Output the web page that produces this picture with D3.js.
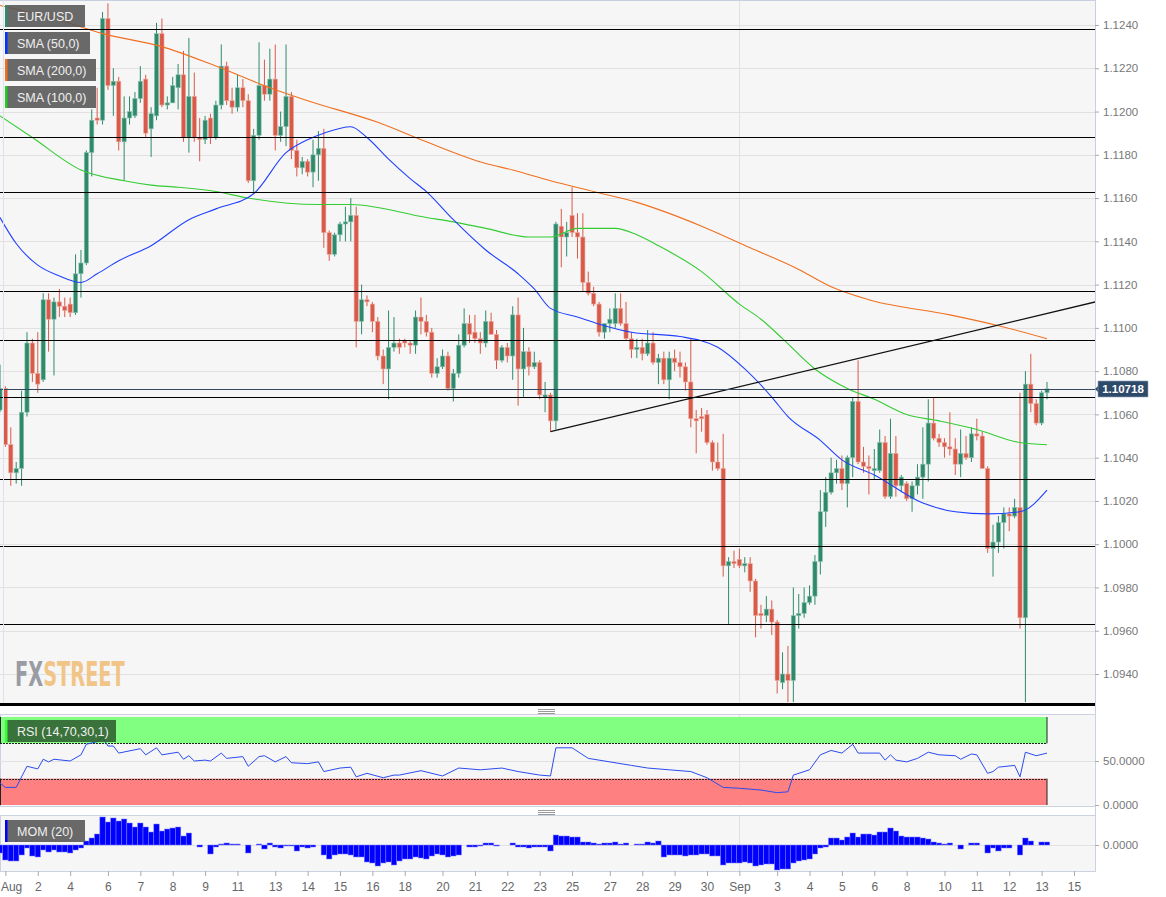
<!DOCTYPE html>
<html>
<head>
<meta charset="utf-8">
<script src="https://cdn.jsdelivr.net/npm/d3@7"></script>
<style>
body { margin: 0; background: #fff; }
text { font-family: "Liberation Sans", Arial, sans-serif; }
</style>
</head>
<body>
<div id="chart"></div>
<script>
var width = 1166,
    height = 897;

// velas 4h: [apertura, maximo, minimo, cierre]
var ohlc = [
[1.1062,1.1083,1.1061,1.1072],[1.1072,1.1073,1.1045,1.1046],[1.1046,1.1054,1.1027,1.1033],[1.1033,1.1038,1.1028,1.1035],[1.1035,1.1071,1.1027,1.1061],
[1.1061,1.1098,1.1059,1.1093],[1.1093,1.1095,1.1075,1.1079],[1.1079,1.1098,1.1070,1.1074],[1.1076,1.1116,1.1075,1.1113],[1.1113,1.1116,1.1089,1.1104],
[1.1104,1.1114,1.1078,1.1112],[1.1112,1.1118,1.1105,1.1110],[1.1110,1.1114,1.1105,1.1108],[1.1111,1.1114,1.1105,1.1107],[1.1107,1.1134,1.1106,1.1125],
[1.1125,1.1136,1.1114,1.1130],[1.1130,1.1182,1.1129,1.1181],[1.1181,1.1201,1.1170,1.1196],[1.1197,1.1211,1.1194,1.1196],[1.1196,1.1246,1.1194,1.1243],
[1.1243,1.1250,1.1210,1.1212],[1.1212,1.1220,1.1198,1.1214],[1.1214,1.1216,1.1182,1.1186],[1.1186,1.1207,1.1168,1.1197],[1.1197,1.1207,1.1194,1.1200],
[1.1198,1.1209,1.1197,1.1206],[1.1206,1.1221,1.1204,1.1214],[1.1215,1.1217,1.1188,1.1190],[1.1192,1.1202,1.1179,1.1199],[1.1198,1.1241,1.1196,1.1236],
[1.1236,1.1243,1.1202,1.1203],[1.1203,1.1207,1.1201,1.1204],[1.1204,1.1216,1.1204,1.1212],[1.1211,1.1222,1.1201,1.1217],[1.1217,1.1228,1.1186,1.1188],
[1.1188,1.1234,1.1181,1.1207],[1.1207,1.1218,1.1186,1.1188],[1.1188,1.1197,1.1177,1.1187],[1.1187,1.1198,1.1185,1.1196],[1.1197,1.1199,1.1185,1.1188],
[1.1188,1.1205,1.1187,1.1203],[1.1203,1.1231,1.1201,1.1221],[1.1221,1.1223,1.1203,1.1205],[1.1205,1.1211,1.1199,1.1202],[1.1202,1.1217,1.1200,1.1211],
[1.1211,1.1215,1.1202,1.1205],[1.1205,1.1208,1.1167,1.1168],[1.1168,1.1192,1.1162,1.1189],[1.1189,1.1232,1.1187,1.1212],[1.1212,1.1224,1.1205,1.1208],
[1.1208,1.1229,1.1205,1.1215],[1.1215,1.1231,1.1182,1.1189],[1.1189,1.1200,1.1186,1.1193],[1.1193,1.1231,1.1184,1.1207],[1.1207,1.1209,1.1178,1.1182],
[1.1182,1.1187,1.1170,1.1174],[1.1174,1.1179,1.1171,1.1177],[1.1177,1.1178,1.1170,1.1172],[1.1172,1.1187,1.1165,1.1180],[1.1180,1.1191,1.1168,1.1183],
[1.1183,1.1192,1.1137,1.1144],[1.1144,1.1145,1.1131,1.1134],[1.1134,1.1144,1.1133,1.1143],[1.1143,1.1149,1.1140,1.1148],[1.1148,1.1156,1.1140,1.1149],
[1.1149,1.1160,1.1140,1.1152],[1.1152,1.1156,1.1091,1.1103],[1.1103,1.1120,1.1097,1.1113],[1.1113,1.1115,1.1110,1.1112],[1.1111,1.1112,1.1098,1.1103],
[1.1103,1.1105,1.1085,1.1087],[1.1087,1.1090,1.1074,1.1081],[1.1081,1.1108,1.1067,1.1091],[1.1091,1.1105,1.1089,1.1093],[1.1093,1.1095,1.1088,1.1091],
[1.1094,1.1095,1.1091,1.1093],[1.1093,1.1094,1.1088,1.1092],[1.1092,1.1108,1.1088,1.1105],[1.1105,1.1114,1.1097,1.1103],[1.1103,1.1106,1.1096,1.1098],
[1.1098,1.1100,1.1077,1.1079],[1.1079,1.1086,1.1077,1.1082],[1.1082,1.1090,1.1081,1.1087],[1.1087,1.1089,1.1071,1.1072],[1.1072,1.1081,1.1066,1.1079],
[1.1079,1.1097,1.1077,1.1092],[1.1092,1.1109,1.1091,1.1102],[1.1102,1.1106,1.1093,1.1097],[1.1098,1.1106,1.1093,1.1095],[1.1095,1.1098,1.1088,1.1093],
[1.1093,1.1108,1.1091,1.1103],[1.1103,1.1107,1.1097,1.1097],[1.1097,1.1099,1.1081,1.1085],[1.1085,1.1092,1.1084,1.1091],[1.1091,1.1093,1.1084,1.1087],
[1.1087,1.1110,1.1076,1.1106],[1.1106,1.1114,1.1064,1.1081],[1.1081,1.1100,1.1068,1.1089],[1.1089,1.1091,1.1078,1.1082],[1.1082,1.1089,1.1081,1.1084],
[1.1084,1.1085,1.1067,1.1069],[1.1068,1.1075,1.1061,1.1069],[1.1069,1.1070,1.1052,1.1057],[1.1057,1.1149,1.1053,1.1148],[1.1147,1.1155,1.1128,1.1142],
[1.1142,1.1149,1.1133,1.1144],[1.1152,1.1165,1.1142,1.1144],[1.1144,1.1153,1.1132,1.1142],[1.1142,1.1153,1.1117,1.1121],[1.1121,1.1126,1.1115,1.1116],
[1.1116,1.1119,1.1110,1.1111],[1.1111,1.1112,1.1096,1.1098],[1.1098,1.1102,1.1095,1.1102],[1.1102,1.1109,1.1098,1.1104],[1.1102,1.1116,1.1100,1.1109],
[1.1109,1.1116,1.1101,1.1102],[1.1102,1.1112,1.1094,1.1095],[1.1095,1.1098,1.1086,1.1090],[1.1090,1.1095,1.1086,1.1091],[1.1091,1.1095,1.1085,1.1088],
[1.1088,1.1099,1.1087,1.1093],[1.1093,1.1098,1.1083,1.1084],[1.1084,1.1088,1.1074,1.1086],[1.1086,1.1089,1.1074,1.1076],[1.1076,1.1089,1.1067,1.1086],
[1.1086,1.1090,1.1080,1.1084],[1.1084,1.1089,1.1077,1.1082],[1.1082,1.1084,1.1071,1.1075],[1.1075,1.1095,1.1054,1.1058],[1.1058,1.1062,1.1042,1.1057],
[1.1059,1.1063,1.1052,1.1058],[1.1060,1.1062,1.1046,1.1047],[1.1047,1.1048,1.1034,1.1038],[1.1038,1.1047,1.1034,1.1035],[1.1035,1.1051,1.0985,1.0990],
[1.0990,1.0994,1.0963,1.0992],[1.0992,1.0997,1.0989,1.0991],[1.0993,1.0998,1.0989,1.0990],[1.0990,1.0994,1.0987,1.0991],[1.0991,1.0994,1.0978,1.0983],
[1.0983,1.0984,1.0957,1.0967],[1.0968,1.0972,1.0961,1.0967],[1.0967,1.0976,1.0964,1.0970],[1.0970,1.0974,1.0958,1.0964],[1.0964,1.0965,1.0931,1.0937],
[1.0936,1.0950,1.0933,1.0940],[1.0940,1.0953,1.0927,1.0937],[1.0937,1.0980,1.0927,1.0967],[1.0967,1.0977,1.0961,1.0968],[1.0968,1.0980,1.0966,1.0973],
[1.0973,1.0981,1.0972,1.0976],[1.0976,1.0995,1.0972,1.0992],[1.0992,1.1025,1.0986,1.1015],[1.1015,1.1031,1.1008,1.1024],[1.1024,1.1040,1.1023,1.1033],
[1.1033,1.1039,1.1028,1.1035],[1.1035,1.1041,1.1025,1.1028],[1.1028,1.1041,1.1017,1.1040],[1.1040,1.1068,1.1031,1.1066],[1.1066,1.1085,1.1037,1.1038],
[1.1038,1.1045,1.1033,1.1036],[1.1036,1.1041,1.1023,1.1035],[1.1034,1.1044,1.1030,1.1035],[1.1034,1.1053,1.1033,1.1047],[1.1047,1.1050,1.1021,1.1022],
[1.1022,1.1058,1.1021,1.1042],[1.1042,1.1050,1.1022,1.1027],[1.1027,1.1032,1.1024,1.1031],[1.1028,1.1029,1.1020,1.1021],[1.1021,1.1029,1.1015,1.1027],
[1.1027,1.1037,1.1023,1.1031],[1.1031,1.1054,1.1021,1.1037],[1.1037,1.1067,1.1029,1.1056],[1.1056,1.1068,1.1048,1.1049],[1.1049,1.1051,1.1045,1.1047],
[1.1047,1.1049,1.1040,1.1045],[1.1045,1.1061,1.1041,1.1044],[1.1044,1.1049,1.1032,1.1037],[1.1037,1.1053,1.1031,1.1042],[1.1042,1.1050,1.1039,1.1040],
[1.1040,1.1054,1.1038,1.1051],[1.1051,1.1058,1.1048,1.1050],[1.1050,1.1052,1.1035,1.1035],[1.1035,1.1036,1.0996,1.0998],[1.0998,1.1009,1.0985,1.1001],
[1.1001,1.1013,1.0996,1.1010],[1.1010,1.1017,1.0998,1.1014],[1.1014,1.1017,1.1006,1.1013],[1.1013,1.1021,1.1012,1.1017],[1.1017,1.1070,1.0961,1.0966],
[1.0966,1.1080,1.0927,1.1074],[1.1074,1.1088,1.1061,1.1065],[1.1065,1.1067,1.1055,1.1056],[1.1056,1.1071,1.1055,1.1070],[1.1070,1.1075,1.1067,1.10718]
];

// medias moviles (indice de vela, precio)
var sma50Idx = [0,3,7,11,15,18,22,28,35,40,47,53,57,60,65,68,72,76,79,84,90,96,99,102,107,112,117,126,133,138,143,146,152,156,162,171,177,183,189,194];
var sma50Val = [1.1151,1.1139,1.1129,1.1124,1.1121,1.1125,1.1131,1.1138,1.1150,1.1155,1.1162,1.1181,1.1187,1.1190,1.1193,1.1188,1.1178,1.1169,1.1163,1.1150,1.1136,1.1125,1.1118,1.1109,1.1105,1.1101,1.1098,1.1096,1.1091,1.1081,1.1068,1.1059,1.1048,1.1039,1.1032,1.1019,1.1015,1.1014,1.1015,1.1025];
var sma100Idx = [0,6,15,23,28,33,40,46,59,65,79,84,90,98,102,107,114,118,122,130,137,141,145,151,157,162,168,174,181,189,194];
var sma100Val = [1.1198,1.1188,1.1173,1.1168,1.1166,1.1165,1.1163,1.1160,1.1157,1.1157,1.1151,1.1149,1.1146,1.1142,1.1142,1.1146,1.1146,1.1143,1.1138,1.1126,1.1111,1.1104,1.1095,1.1081,1.1072,1.1067,1.1060,1.1057,1.1053,1.1047,1.1046];
var sma200Idx = [0,10,19,30,40,50,57,70,79,90,95,102,110,118,130,139,148,154,161,176,185,194];
var sma200Val = [1.1249,1.1243,1.1236,1.1230,1.1221,1.1211,1.1205,1.1195,1.1186,1.1176,1.1173,1.1168,1.1163,1.1158,1.1147,1.1137,1.1127,1.1119,1.1113,1.1106,1.1101,1.1095];

// niveles horizontales y linea de tendencia
var levels = [1.1238,1.1188,1.1163,1.1117,1.10945,1.1068,1.1030,1.0999,1.0963];
var trendIdx = [102, 203];
var trendVal = [1.1052, 1.1112];
var lastPrice = 1.10718;

// RSI (14)
var rsiIdx = [0,1,3,5,7,8,9,10,13,15,16,18,19,20,21,22,26,27,29,30,33,34,35,36,38,39,41,42,45,46,48,49,51,53,54,57,59,60,63,65,66,68,71,73,74,78,82,85,89,93,96,100,102,103,106,109,113,117,120,124,128,131,134,137,141,144,146,147,150,152,154,156,158,159,163,164,165,166,168,170,172,174,177,178,179,180,181,183,184,185,188,189,190,192,194];
var rsiVal = [25,20,20,44,41,52,49,52,50,57,69,72,77,67,67,59,64,57,65,57,60,52,56,50,51,50,59,53,55,44,55,56,49,55,48,47,49,38,42,43,32,36,31,34,34,39,33,42,40,42,38,34,33,65,65,53,49,45,42,40,38,31,20,19,17,14,15,34,40,57,62,59,69,59,59,51,57,51,49,53,60,57,56,52,55,58,57,36,38,43,45,32,60,56,59];

// MOM (20), una barra por vela
var mom = [
-0.0032,-0.0060,-0.0064,-0.0064,-0.0040,-0.0012,-0.0044,-0.0048,-0.0020,-0.0028,
-0.0020,-0.0028,-0.0028,-0.0032,-0.0020,-0.0012,0.0016,0.0028,0.0044,0.0112,
0.0092,0.0108,0.0096,0.0104,0.0088,0.0072,0.0088,0.0072,0.0052,0.0084,
0.0056,0.0064,0.0068,0.0072,0.0036,0.0048,0,-0.0008,0,-0.0036,
-0.0008,0.0004,0.0008,0.0004,0.0004,0,-0.0032,0,0.0004,-0.0016,
0.0008,-0.0008,-0.0012,-0.0004,-0.0004,-0.0024,-0.0008,-0.0012,-0.0008,0,
-0.0040,-0.0056,-0.0040,-0.0036,-0.0036,-0.0040,-0.0048,-0.0048,-0.0068,-0.0072,
-0.0084,-0.0072,-0.0068,-0.0080,-0.0064,-0.0056,-0.0056,-0.0048,-0.0052,-0.0056,
-0.0044,-0.0036,-0.0040,-0.0048,-0.0044,-0.0040,0,-0.0008,-0.0008,-0.0004,
0.0008,0.0008,-0.0004,0,0,0.0008,-0.0008,-0.0008,-0.0012,-0.0008,
-0.0008,-0.0008,-0.0024,0.0040,0.0036,0.0036,0.0032,0.0032,0.0012,0.0012,
0.0008,0.0004,0.0008,0.0008,0.0012,0.0004,0.0008,0,0.0004,0.0004,
0.0012,0.0008,0.0016,-0.0048,-0.0040,-0.0040,-0.0040,-0.0044,-0.0040,-0.0040,
-0.0036,-0.0036,-0.0044,-0.0044,-0.0080,-0.0072,-0.0072,-0.0072,-0.0068,-0.0072,
-0.0084,-0.0080,-0.0076,-0.0076,-0.0100,-0.0096,-0.0096,-0.0072,-0.0064,-0.0060,
-0.0056,-0.0036,-0.0012,-0.0008,0.0028,0.0028,0.0020,0.0032,0.0048,0.0032,
0.0044,0.0044,0.0040,0.0052,0.0052,0.0068,0.0056,0.0036,0.0032,0.0032,
0.0032,0.0028,0.0024,0.0012,0.0008,0.0004,0.0008,0,-0.0016,0,
0.0008,0.0008,0,-0.0032,-0.0012,-0.0024,-0.0012,-0.0012,0,-0.0040,
0.0028,0.0016,0,0.0012,0.0012
];

// eje de tiempo
var tickIdx = [1,7,13,20,26,32,38,44,51,57,63,69,75,82,88,94,100,106,113,119,125,131,137,144,150,156,162,168,175,181,187,193,199];
var tickLbl = ["Aug","2","4","6","7","8","9","11","13","14","15","16","18","20","21","22","23","25","27","28","29","30","Sep","3","4","5","6","8","10","11","12","13","15"];
var priceTicks = d3.range(0, 16).map(k => +(1.0940 + k * 0.002).toFixed(4));

var plotW = 1095, mainH = 704;
var up = "#2f8a6c", upLine = "#8cc4b1", down = "#d85a48", downLine = "#eeaaa0";

var x = d3.scaleLinear().domain([0, 194]).range([0, 1047]);
var y = d3.scaleLinear().domain([1.0940, 1.1240]).range([674, 25]);
var yRsi = d3.scaleLinear().domain([0, 100]).range([805, 717]);
var yMom = d3.scaleLinear().domain([-0.0104, 0.0120]).range([871, 815]);

var svg = d3.select("#chart").append("svg")
            .attr("width", width)
            .attr("height", height);

svg.append("rect").attr("width", width).attr("height", height).attr("fill", "#fff");

// ---------- panel principal ----------
svg.append("rect").attr("x", 0).attr("y", 0).attr("width", plotW).attr("height", mainH).attr("fill", "#f6f6f6");
svg.append("clipPath").attr("id", "clipMain")
   .append("rect").attr("x", 0).attr("y", 0).attr("width", plotW).attr("height", mainH);

var grid = svg.append("g");
grid.selectAll("line").data(priceTicks).enter().append("line")
    .attr("x1", 0).attr("x2", plotW)
    .attr("y1", d => Math.round(y(d)) + 0.5).attr("y2", d => Math.round(y(d)) + 0.5)
    .attr("stroke", "#e1e1e1");

// linea vertical de cambio de mes
svg.append("line").attr("x1", Math.round(x(137)) + 0.5).attr("x2", Math.round(x(137)) + 0.5)
   .attr("y1", 0).attr("y2", mainH).attr("stroke", "#e1e1e1");

// marca de agua: letra estrecha estirada en vertical
var wm = svg.append("text")
    .attr("transform", "translate(15,686) scale(1,1.55)")
    .style("font-family", "'DejaVu Sans Condensed', 'Liberation Sans Narrow', sans-serif")
    .style("font-weight", "bold").style("font-size", "21.5px");
wm.append("tspan").attr("fill", "#999ca4").text("FX");
wm.append("tspan").attr("fill", "#f1c488").text("STREET");

var main = svg.append("g").attr("clip-path", "url(#clipMain)");

// velas
main.selectAll("line.wick").data(ohlc).enter().append("line")
    .attr("class", "wick")
    .attr("x1", (d, i) => x(i)).attr("x2", (d, i) => x(i))
    .attr("y1", d => y(d[1])).attr("y2", d => y(d[2]))
    .attr("stroke", d => d[3] >= d[0] ? up : down)
    .attr("stroke-width", 1);

main.selectAll("rect.body").data(ohlc).enter().append("rect")
    .attr("class", "body")
    .attr("x", (d, i) => x(i) - 2.1)
    .attr("width", 4.2)
    .attr("y", d => y(Math.max(d[0], d[3])))
    .attr("height", d => Math.max(1, Math.abs(y(d[0]) - y(d[3]))))
    .attr("fill", d => d[3] >= d[0] ? up : down)
    .attr("stroke", d => d[3] >= d[0] ? upLine : downLine)
    .attr("stroke-width", 0.6);

// medias moviles
var smaLine = d3.line().x(d => x(d[0])).y(d => y(d[1])).curve(d3.curveMonotoneX);
[[sma200Idx, sma200Val, "#f07020"], [sma100Idx, sma100Val, "#33cc33"], [sma50Idx, sma50Val, "#2040ff"]].forEach(function (s) {
    main.append("path")
        .datum(d3.zip(s[0], s[1]))
        .attr("d", smaLine)
        .attr("fill", "none")
        .attr("stroke", s[2])
        .attr("stroke-width", 1.1);
});

// soportes / resistencias
main.selectAll("line.level").data(levels).enter().append("line")
    .attr("class", "level")
    .attr("x1", 0).attr("x2", plotW)
    .attr("y1", d => Math.round(y(d)) + 0.5).attr("y2", d => Math.round(y(d)) + 0.5)
    .attr("stroke", "#000").attr("stroke-width", 1.2);

// tendencia
main.append("line")
    .attr("x1", x(trendIdx[0])).attr("y1", y(trendVal[0]))
    .attr("x2", x(trendIdx[1])).attr("y2", y(trendVal[1]))
    .attr("stroke", "#111").attr("stroke-width", 1.3);

// precio actual
main.append("line")
    .attr("x1", 0).attr("x2", plotW)
    .attr("y1", Math.round(y(lastPrice)) + 0.5).attr("y2", Math.round(y(lastPrice)) + 0.5)
    .attr("stroke", "#34495e").attr("stroke-width", 1);

// bordes del panel principal
svg.append("line").attr("x1", 0).attr("x2", plotW).attr("y1", 0.5).attr("y2", 0.5).attr("stroke", "#c9cfe0");
svg.append("line").attr("x1", 3.5).attr("x2", 3.5).attr("y1", 0).attr("y2", mainH).attr("stroke", "#dde1ec");
svg.append("line").attr("x1", plotW + 0.5).attr("x2", plotW + 0.5).attr("y1", 0).attr("y2", 871).attr("stroke", "#c9cfe0");

// eje de precios
var yAxis = svg.append("g").attr("transform", "translate(" + plotW + ",0)")
    .call(d3.axisRight(y).tickValues(priceTicks).tickSize(4).tickPadding(4).tickFormat(d3.format(".4f")));
yAxis.select(".domain").remove();
yAxis.selectAll("line").attr("stroke", "#aaa");
yAxis.selectAll("text").attr("fill", "#777").style("font-size", "11.5px")
     .style("font-family", "'Liberation Sans', Arial, sans-serif");

// etiqueta del ultimo precio
var ly = Math.round(y(lastPrice));
svg.append("path")
   .attr("d", "M1095," + ly + " L1099," + (ly - 4) + " L1099," + (ly + 4) + "Z")
   .attr("fill", "#2e4a6b");
svg.append("rect").attr("x", 1098).attr("y", ly - 8).attr("width", 50).attr("height", 16)
   .attr("fill", "#2e4a6b").attr("stroke", "#8da0b8").attr("stroke-width", 0.6);
svg.append("text").attr("x", 1123).attr("y", ly + 4).attr("text-anchor", "middle")
   .attr("fill", "#fff").style("font-size", "11.5px").style("font-weight", "bold")
   .text(lastPrice.toFixed(5));

// leyendas
function legend(x0, y0, w, label, barColor, boxColor) {
    svg.append("rect").attr("x", x0).attr("y", y0).attr("width", w).attr("height", 22)
       .attr("fill", boxColor).attr("fill-opacity", 0.88);
    svg.append("rect").attr("x", x0).attr("y", y0).attr("width", 2.5).attr("height", 22)
       .attr("fill", barColor);
    svg.append("text").attr("x", x0 + 12).attr("y", y0 + 15.5)
       .attr("fill", "#f0f0f0").style("font-size", "12.5px").text(label);
}
legend(5, 5, 80, "EUR/USD", up, "#555");
legend(5, 32, 85, "SMA (50,0)", "#0033ff", "#555");
legend(5, 59, 91, "SMA (200,0)", "#f07020", "#555");
legend(5, 86, 91, "SMA (100,0)", "#22cc22", "#555");

// separador grueso
svg.append("rect").attr("x", 0).attr("y", 703).attr("width", plotW).attr("height", 3).attr("fill", "#000");
[709, 810].forEach(function (gy) {
    [0, 2, 4].forEach(function (k) {
        svg.append("line").attr("x1", 538).attr("x2", 555)
           .attr("y1", gy + k + 0.5).attr("y2", gy + k + 0.5).attr("stroke", "#999");
    });
});

// ---------- panel RSI ----------
svg.append("rect").attr("x", 0.5).attr("y", 714.5).attr("width", plotW).attr("height", 92)
   .attr("fill", "#f6f6f6").attr("stroke", "#cdd2e0");
svg.append("line").attr("x1", 0).attr("x2", plotW)
   .attr("y1", Math.round(yRsi(50)) + 0.5).attr("y2", Math.round(yRsi(50)) + 0.5).attr("stroke", "#e1e1e1");
svg.append("line").attr("x1", Math.round(x(137)) + 0.5).attr("x2", Math.round(x(137)) + 0.5)
   .attr("y1", 715).attr("y2", 806).attr("stroke", "#e1e1e1");

var xEnd = x(194);
svg.append("rect").attr("x", 0).attr("y", yRsi(100)).attr("width", xEnd).attr("height", yRsi(70) - yRsi(100))
   .attr("fill", "#80ff80");
svg.append("rect").attr("x", 0).attr("y", yRsi(30)).attr("width", xEnd).attr("height", yRsi(0) - yRsi(30))
   .attr("fill", "#ff8080");
[70, 30].forEach(function (v) {
    svg.append("line").attr("x1", 0).attr("x2", xEnd)
       .attr("y1", Math.round(yRsi(v)) + 0.5).attr("y2", Math.round(yRsi(v)) + 0.5)
       .attr("stroke", "#222").attr("stroke-dasharray", "2,1");
});
[[100, 70], [30, 0]].forEach(function (b) {
    svg.append("line").attr("x1", xEnd).attr("x2", xEnd)
       .attr("y1", yRsi(b[0])).attr("y2", yRsi(b[1])).attr("stroke", "#222");
    svg.append("line").attr("x1", 0.5).attr("x2", 0.5)
       .attr("y1", yRsi(b[0])).attr("y2", yRsi(b[1])).attr("stroke", "#222");
});

svg.append("path")
   .datum(d3.zip(rsiIdx, rsiVal))
   .attr("d", d3.line().x(d => x(d[0])).y(d => yRsi(d[1])))
   .attr("fill", "none").attr("stroke", "#2a4bf0").attr("stroke-width", 1);

var rAxis = svg.append("g").attr("transform", "translate(" + plotW + ",0)")
    .call(d3.axisRight(yRsi).tickValues([0, 50]).tickSize(4).tickPadding(4).tickFormat(d3.format(".4f")));
rAxis.select(".domain").remove();
rAxis.selectAll("line").attr("stroke", "#aaa");
rAxis.selectAll("text").attr("fill", "#777").style("font-size", "11.5px");

legend(5, 720, 111, "RSI (14,70,30,1)", "#33ff33", "#2f5f30");

// ---------- panel MOM ----------
svg.append("rect").attr("x", 0.5).attr("y", 815.5).attr("width", plotW).attr("height", 56)
   .attr("fill", "#f6f6f6").attr("stroke", "#cdd2e0");
svg.append("line").attr("x1", 0).attr("x2", plotW)
   .attr("y1", Math.round(yMom(0)) + 0.5).attr("y2", Math.round(yMom(0)) + 0.5).attr("stroke", "#e1e1e1");
svg.append("line").attr("x1", Math.round(x(137)) + 0.5).attr("x2", Math.round(x(137)) + 0.5)
   .attr("y1", 816).attr("y2", 871).attr("stroke", "#e1e1e1");

var momBars = mom.map((v, i) => [i, v]).filter(d => d[1] !== 0);
svg.append("g").selectAll("rect").data(momBars).enter().append("rect")
   .attr("x", d => x(d[0]) - 2.7)
   .attr("width", 5.4)
   .attr("y", d => yMom(Math.max(0, d[1])))
   .attr("height", d => Math.abs(yMom(d[1]) - yMom(0)))
   .attr("fill", "#0000ff")
   .attr("stroke", "#8080ff").attr("stroke-width", 0.5);

var mAxis = svg.append("g").attr("transform", "translate(" + plotW + ",0)")
    .call(d3.axisRight(yMom).tickValues([0]).tickSize(4).tickPadding(4).tickFormat(d3.format(".4f")));
mAxis.select(".domain").remove();
mAxis.selectAll("line").attr("stroke", "#aaa");
mAxis.selectAll("text").attr("fill", "#777").style("font-size", "11.5px");

legend(5, 820, 80, "MOM (20)", "#0000ff", "#555");

// ---------- eje de tiempo ----------
var xAxis = svg.append("g").attr("transform", "translate(0,871)")
    .call(d3.axisBottom(x).tickValues(tickIdx).tickSize(5).tickPadding(6).tickFormat((d, i) => tickLbl[i]));
xAxis.select(".domain").remove();
xAxis.selectAll("line").attr("stroke", "#aab");
xAxis.selectAll("text").attr("fill", "#666").style("font-size", "12px")
     .style("font-family", "'Liberation Sans', Arial, sans-serif");
xAxis.select(".tick text").attr("text-anchor", "start").attr("x", -5);
</script>
</body>
</html>
